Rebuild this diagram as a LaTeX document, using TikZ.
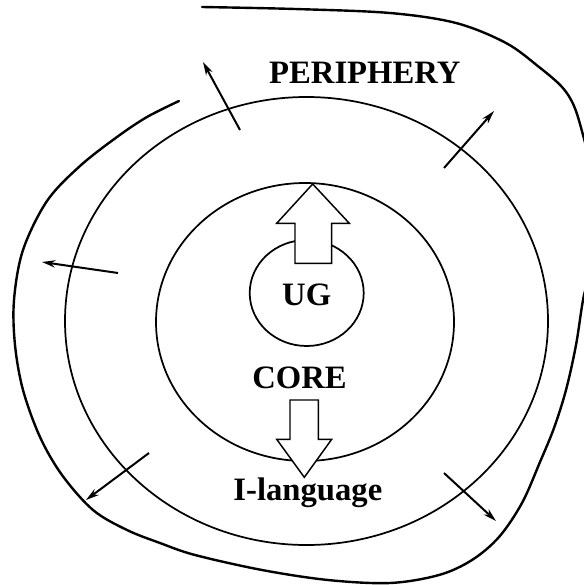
\documentclass[tikz,border=0pt]{standalone}
\usepackage{fontspec}
\setmainfont{Liberation Serif}
\usetikzlibrary{shapes.geometric,arrows.meta}
\tikzset{
  ring/.style={draw, ellipse, inner sep=0pt, line width=1.3pt},
  lbl/.style={anchor=base, inner sep=0pt, font=\bfseries\fontsize{24.5pt}{28pt}\selectfont},
  spread/.style={line width=1.5pt, -{Stealth[length=10pt,width=5.5pt]}},
  blockarrow/.style={draw, fill=white, line width=1.1pt, line join=miter},
  outerline/.style={line width=1.8pt, line cap=round}
}
\begin{document}
\begin{tikzpicture}[x=0.75pt, y=-0.75pt]
\clip (0,0) rectangle (584,585);
\fill[white] (0,0) rectangle (584,585);
% rings
\node[ring, minimum width=362.25pt, minimum height=336pt] (periph) at (306.5,321) {};
\node[ring, minimum width=223.5pt, minimum height=208.5pt] (core) at (305,322) {};
\node[ring, minimum width=85.5pt, minimum height=79.5pt] (ug) at (306.7,293) {};
% outer open curve
\draw[outerline] plot[smooth, tension=0.55] coordinates {
 (202,7) (295,9) (390,13) (456,23) (506,43) (539,67) (562,87) (574,106) (583,135)
 (594,180) (599,220) (594,262) (584,295) (576,345) (566,390) (554,428) (540,462)
 (522,503) (499,537) (472,560) (439,575) (390,583) (328,580) (262,570) (195,555)
 (160,543) (127,530) (93,510) (62,475) (40,437) (23,390) (15,345) (14,300) (23,250)
 (47,201) (80,166) (117,137) (147,117) (179,101)};
% block arrows
\draw[blockarrow] (312.7,184) -- (349.3,223.3) -- (331.7,223.3) -- (331.7,263.3)
  -- (295,263.3) -- (295,223.3) -- (276.7,223.3) -- cycle;
\draw[blockarrow] (304.3,477.3) -- (331.7,439.3) -- (318.3,439.3) -- (318.3,400)
  -- (290,400) -- (290,439.3) -- (276.7,439.3) -- cycle;
% small arrows
\coordinate (a1s) at (240,130); \coordinate (a1e) at (203,62);
\coordinate (a2s) at (444,168); \coordinate (a2e) at (494,111);
\coordinate (a3s) at (118,273); \coordinate (a3e) at (42,262);
\coordinate (a4s) at (149,453); \coordinate (a4e) at (86,500);
\coordinate (a5s) at (444,473); \coordinate (a5e) at (496,521);
\draw[spread] (a1s) -- (a1e);
\draw[spread] (a2s) -- (a2e);
\draw[spread] (a3s) -- (a3e);
\draw[spread] (a4s) -- (a4e);
\draw[spread] (a5s) -- (a5e);
% labels
\node[lbl] (tperiph) at (364.8,83.3) {PERIPHERY};
\node[lbl] (tug) at (306.7,305) {UG};
\node[lbl] (tcore) at (299.5,388.3) {CORE};
\node[lbl] (tilang) at (307.9,500) {I-language};
\end{tikzpicture}
\end{document}
